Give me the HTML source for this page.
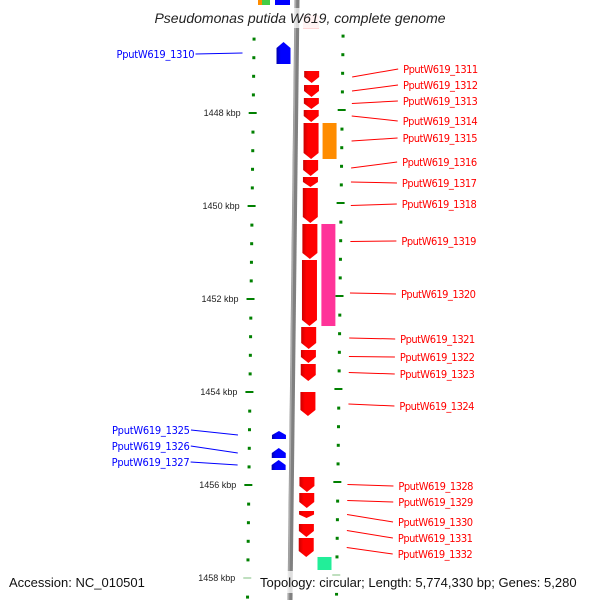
<!DOCTYPE html>
<html><head><meta charset="utf-8"><style>
html,body{margin:0;padding:0;background:#fff;}
svg{display:block;font-family:"Liberation Sans","DejaVu Sans",sans-serif;}
</style></head><body>
<svg id="map" width="600" height="600" viewBox="0 0 600 600">
<defs>
<linearGradient id="gr" x1="0" x2="1"><stop offset="0" stop-color="#c00"/><stop offset="0.3" stop-color="#f00"/><stop offset="1" stop-color="#f00"/></linearGradient>
<linearGradient id="gb" x1="0" x2="1"><stop offset="0" stop-color="#00a"/><stop offset="0.3" stop-color="#00f"/><stop offset="1" stop-color="#00f"/></linearGradient>
</defs>
<g id="ticks"></g>
<g id="backbone"></g>
<g id="genes"></g>
<g id="labels"></g>
</svg>
<script>
const tickLabels = [1448, 1450, 1452, 1454, 1456, 1458];
const fwdNames = ["PputW619_1311","PputW619_1312","PputW619_1313","PputW619_1314","PputW619_1315","PputW619_1316","PputW619_1317","PputW619_1318","PputW619_1319","PputW619_1320","PputW619_1321","PputW619_1322","PputW619_1323","PputW619_1324","PputW619_1328","PputW619_1329","PputW619_1330","PputW619_1331","PputW619_1332"];
const fwdStart = [1447.097,1447.398,1447.677,1447.935,1448.215,1449.011,1449.376,1449.613,1450.387,1451.161,1452.602,1453.097,1453.398,1454.000,1455.828,1456.172,1456.559,1456.839,1457.140];
const fwdEnd = [1447.355,1447.656,1447.914,1448.194,1448.989,1449.355,1449.591,1450.366,1451.140,1452.581,1453.075,1453.376,1453.763,1454.516,1456.151,1456.495,1456.710,1457.118,1457.548];
const fwdLabelKbp = [1447.053,1447.398,1447.742,1448.172,1448.538,1449.054,1449.505,1449.957,1450.753,1451.892,1452.860,1453.247,1453.613,1454.301,1456.022,1456.366,1456.796,1457.140,1457.484];
const revNames = ["PputW619_1310","PputW619_1325","PputW619_1326","PputW619_1327"];
const revStart = [1446.473,1454.839,1455.204,1455.462];
const revEnd = [1446.946,1455.011,1455.419,1455.677];
const revLabelKbp = [1446.731,1454.817,1455.161,1455.505];
const extraStart = [1448.215, 1450.387, 1457.548];
const extraEnd = [1448.989, 1452.581, 1457.828];
const extraColor = ["#ff8c00", "#ff3399", "#22ee99"];

const NS = "http://www.w3.org/2000/svg";
const y = k => 113 + (k - 1448) * 46.5;
const bx = yy => 297 - 7 * yy / 600;
function mk(tag, attrs, parent) {
  const e = document.createElementNS(NS, tag);
  for (const k in attrs) e.setAttribute(k, attrs[k]);
  parent.appendChild(e); return e;
}
const gT = document.getElementById('ticks'), gB = document.getElementById('backbone'),
      gG = document.getElementById('genes'), gL = document.getElementById('labels');

[["#ff8c00",258,262],["#44cc44",262,270],["#0000ff",275,290]].forEach(c=>{
  const r = mk('rect',{x:c[1],y:0,width:c[2]-c[1],height:5,fill:c[0]},gG);
  
  
});
const bb = mk('line',{x1:297,y1:0,x2:290,y2:600,stroke:'#808080','stroke-width':5},gB);


mk('line',{x1:295.5,y1:0,x2:288.5,y2:600,stroke:'#aaa','stroke-width':1.5},gB);

for (let k = 1446.4; k <= 1458.9; k += 0.4) {
  const yy = y(k);
  const major = Math.abs(k - Math.round(k)) < 0.01 && Math.round(k) % 2 === 0;
  const lx = bx(yy) - 43, rx = bx(yy) + 46;
  const a = mk('rect',{x: major ? lx-4 : lx-1, y: yy-1, width: major ? 8 : 3, height: major ? 2 : 3, fill:'#008000'},gT);
  
  
  const ry = yy - 3;
  const b = mk('rect',{x: major ? rx-4 : rx-1, y: ry-1, width: major ? 8 : 3, height: major ? 2 : 3, fill:'#008000'},gT);
  
  
}
tickLabels.forEach(t=>{
  const yy = y(t);
  const tx = mk('text',{x:bx(yy)-55,y:yy+3,'font-size':9,'text-anchor':'end',fill:'#222'},gT);
  tx.textContent = t + ' kbp';
  
  
});

fwdStart.forEach((s,i)=>{
  const y0 = y(s), y1 = y(fwdEnd[i]);
  const x0 = bx(y0) + 8, w = 15, head = Math.min(6, (y1-y0)*0.5);
  const p = mk('polygon',{points:`${x0},${y0} ${x0+w},${y0} ${x0+w},${y1-head} ${x0+w/2},${y1} ${x0},${y1-head}`,fill:'url(#gr)'},gG);
  
  
  const ly = y(fwdLabelKbp[i]);
  const ln = mk('line',{x1:bx(y0)+56,y1:(y0+y1)/2,x2:bx(y0)+102,y2:ly,stroke:'#f00','stroke-width':1},gL);
  
  
  const t = mk('text',{x:bx(y0)+107,y:ly+4,'font-size':11,fill:'#f00','font-family':'DejaVu Sans Condensed, DejaVu Sans, sans-serif','textLength':75},gL);
  t.textContent = fwdNames[i];
  
  
});
extraStart.forEach((s,i)=>{
  const y0 = y(s), y1 = y(extraEnd[i]);
  const r = mk('rect',{x:bx(y0)+27,y:y0,width:14,height:y1-y0,fill:extraColor[i]},gG);
  
  
});
revStart.forEach((s,i)=>{
  const y0 = y(s), y1 = y(revEnd[i]);
  const x0 = bx(y0) - 20, w = 14, head = Math.min(6, (y1-y0)*0.5);
  const p = mk('polygon',{points:`${x0+w/2},${y0} ${x0+w},${y0+head} ${x0+w},${y1} ${x0},${y1} ${x0},${y0+head}`,fill:'url(#gb)'},gG);
  
  
  const ly = y(revLabelKbp[i]);
  const ln = mk('line',{x1:bx(y0)-101,y1:ly,x2:bx(y0)-54,y2:(y0+y1)/2,stroke:'#00f','stroke-width':1},gL);
  
  
  const t = mk('text',{x:bx(y0)-102,y:ly+4,'font-size':11,'text-anchor':'end',fill:'#00f','font-family':'DejaVu Sans Condensed, DejaVu Sans, sans-serif','textLength':78},gL);
  t.textContent = revNames[i];
  
  
});
</script>
<svg width="600" height="600" style="position:absolute;left:0;top:0;pointer-events:none">
<rect x="303" y="15" width="16" height="14" fill="#ffcccc" opacity="0.8"/>
<rect x="110" y="8" width="380" height="20" fill="#fff" opacity="0.7"/>
<text x="300" y="23" font-size="14" font-style="italic" text-anchor="middle" fill="#222" font-family="Liberation Sans, sans-serif">Pseudomonas putida W619, complete genome</text>
<rect x="241" y="571" width="359" height="22" fill="#fff" opacity="0.75"/>
<text x="9" y="587" font-size="13" fill="#111" font-family="Liberation Sans, sans-serif">Accession: NC_010501</text>
<text x="260" y="587" font-size="13" fill="#111" font-family="Liberation Sans, sans-serif">Topology: circular; Length: 5,774,330 bp; Genes: 5,280</text>
</svg>
</body></html>
